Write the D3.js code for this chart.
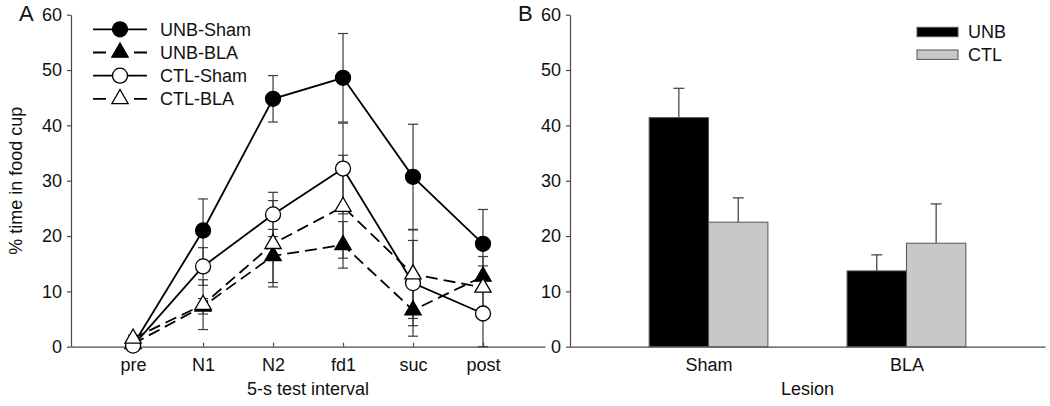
<!DOCTYPE html>
<html><head><meta charset="utf-8">
<script src="https://cdn.jsdelivr.net/npm/d3@7"></script>
<style>
html,body{margin:0;padding:0;background:#fff;}
svg{display:block;font-family:Arial,"Liberation Sans",sans-serif;}
</style></head>
<body><svg id="c" width="1050" height="406"></svg>
<script>
// ---- Panel A data ----
const intervals = ["pre","N1","N2","fd1","suc","post"];
const unbSham    = [0.3, 21.0, 44.8, 48.6, 30.7, 18.6];
const unbShamErr = [0.3, 5.7, 4.2, 8.0, 9.5, 6.2];
const unbBla     = [0.5, 7.3, 16.4, 18.4, 6.6, 12.7];
const unbBlaErr  = [0.4, 1.4, 4.8, 4.2, 4.7, 1.9];
const ctlSham    = [0.2, 14.5, 23.9, 32.2, 11.5, 6.0];
const ctlShamErr = [0.3, 3.4, 4.0, 8.2, 7.7, 6.0];
const ctlBla     = [1.5, 7.6, 18.6, 25.3, 13.1, 10.7];
const ctlBlaErr  = [0.6, 4.5, 7.8, 9.3, 8.0, 5.6];
const seriesNames = ["UNB-Sham","UNB-BLA","CTL-Sham","CTL-BLA"];
const yTicks = [0,10,20,30,40,50,60];
// ---- Panel B data ----
const lesions = ["Sham","BLA"];
const groupNames = ["UNB","CTL"];
const unbBar    = [41.4, 13.7];
const unbBarErr = [5.3, 2.9];
const ctlBar    = [22.5, 18.7];
const ctlBarErr = [4.4, 7.1];

(function(){
const svg = d3.select("#c");
const axisCol = "#4a4a4a", errCol = "#3a3a3a", txt = "#111";
const yTop = 14.7, yBot = 346.7;

const y = d3.scaleLinear().domain([0,60]).range([yBot, yTop]);

// ================= Panel A =================
const xA = d3.scaleLinear().domain([-0.887, 5.886]).range([71, 545]);
const gA = svg.append("g");

const series = [
  {name:seriesNames[0], v:unbSham, e:unbShamErr, fill:"#000", dash:null, sym:"circle"},
  {name:seriesNames[1], v:unbBla,  e:unbBlaErr,  fill:"#000", dash:"12,6", sym:"triangle"},
  {name:seriesNames[2], v:ctlSham, e:ctlShamErr, fill:"#fff", dash:null, sym:"circle"},
  {name:seriesNames[3], v:ctlBla,  e:ctlBlaErr,  fill:"#fff", dash:"12,6", sym:"triangle"}
];

const yAxisA = d3.axisLeft(y).tickValues(yTicks).tickSize(4).tickPadding(5).tickSizeOuter(0);
const axA = gA.append("g").attr("transform","translate(71,0)").call(yAxisA);
const xAxisA = d3.axisBottom(xA).tickValues(d3.range(intervals.length)).tickFormat(i=>intervals[i]).tickSize(-4).tickPadding(14).tickSizeOuter(0);
const axAx = gA.append("g").attr("transform",`translate(0,${yBot})`).call(xAxisA);
[axA, axAx].forEach(a=>{
  a.select(".domain").attr("stroke",axisCol).attr("stroke-width",1.2);
  a.selectAll(".tick line").attr("stroke",axisCol).attr("stroke-width",1.2);
  a.selectAll("text").attr("fill",txt).style("font-size","18px");
});
axAx.selectAll("text").attr("dy","0.55em");

series.forEach(s=>{
  const g = gA.append("g");
  s.v.forEach((v,i)=>{
    const cx = xA(i), y1 = y(Math.max(0,v - s.e[i])), y2 = y(v + s.e[i]);
    g.append("line").attr("x1",cx).attr("x2",cx).attr("y1",y1).attr("y2",y2).attr("stroke",errCol).attr("stroke-width",1.2);
    [y1,y2].forEach(yy=>g.append("line").attr("x1",cx-5).attr("x2",cx+5).attr("y1",yy).attr("y2",yy).attr("stroke",errCol).attr("stroke-width",1.2));
  });
});
const line = d3.line().x((d,i)=>xA(i)).y(d=>y(d));
series.forEach(s=>{
  gA.append("path").datum(s.v).attr("d",line).attr("fill","none").attr("stroke","#000")
    .attr("stroke-width",1.8).attr("stroke-dasharray",s.dash);
});
const triPath = d3.symbol().type(d3.symbolTriangle).size(115)();
function marker(g, s, cx, cy){
  if(s.sym==="circle"){
    g.append("circle").attr("cx",cx).attr("cy",cy).attr("r",7.5).attr("fill",s.fill).attr("stroke","#000").attr("stroke-width",1.3);
  } else {
    g.append("path").attr("d",triPath).attr("transform",`translate(${cx},${cy})`).attr("fill",s.fill).attr("stroke","#000").attr("stroke-width",1.3);
  }
}
series.forEach(s=>{
  const g = gA.append("g");
  s.v.forEach((v,i)=>marker(g,s,xA(i),y(v)));
});

series.forEach((s,k)=>{
  const ly = 29.3 + k*23.2;
  const g = gA.append("g");
  g.append("line").attr("x1",93).attr("x2",147).attr("y1",ly).attr("y2",ly).attr("stroke","#000").attr("stroke-width",1.8).attr("stroke-dasharray",s.dash ? "13,28" : null);
  marker(g,s,120,ly);
  g.append("text").attr("x",160).attr("y",ly).attr("dy","0.36em").attr("fill",txt).style("font-size","18px").text(s.name);
});

gA.append("text").attr("x",308).attr("y",395).attr("text-anchor","middle").attr("fill",txt).style("font-size","18px").text("5-s test interval");
gA.append("text").attr("transform",`translate(22,${(yTop+yBot)/2}) rotate(-90)`).attr("text-anchor","middle").attr("fill",txt).style("font-size","18px").text("% time in food cup");
gA.append("text").attr("x",19).attr("y",21).attr("fill",txt).style("font-size","22px").text("A");

// ================= Panel B =================
const gB = svg.append("g");
const xB = d3.scaleLinear().domain([-0.7, 1.7]).range([570, 1045]);
const barW = xB(0.3) - xB(0);

const yAxisB = d3.axisLeft(y).tickValues(yTicks).tickSize(4).tickPadding(5).tickSizeOuter(0);
const axB = gB.append("g").attr("transform","translate(570,0)").call(yAxisB);
const xAxisB = d3.axisBottom(xB).tickValues(d3.range(lesions.length)).tickFormat(i=>lesions[i]).tickSize(0).tickPadding(14).tickSizeOuter(0);
const axBx = gB.append("g").attr("transform",`translate(0,${yBot})`).call(xAxisB);
[axB, axBx].forEach(a=>{
  a.select(".domain").attr("stroke",axisCol).attr("stroke-width",1.2);
  a.selectAll(".tick line").attr("stroke",axisCol).attr("stroke-width",1.2);
  a.selectAll("text").attr("fill",txt).style("font-size","18px");
});
axBx.selectAll("text").attr("dy","0.55em");

const groups = [
  {name:groupNames[0], v:unbBar, e:unbBarErr, fill:"#000", off:-1},
  {name:groupNames[1], v:ctlBar, e:ctlBarErr, fill:"#c8c8c8", off:0}
];
groups.forEach(gr=>{
  gr.v.forEach((v,i)=>{
    const x0 = xB(i) + gr.off*barW;
    const cx = x0 + barW/2;
    gB.append("line").attr("x1",cx).attr("x2",cx).attr("y1",y(v)).attr("y2",y(v+gr.e[i])).attr("stroke",errCol).attr("stroke-width",1.2);
    gB.append("line").attr("x1",cx-5.5).attr("x2",cx+5.5).attr("y1",y(v+gr.e[i])).attr("y2",y(v+gr.e[i])).attr("stroke",errCol).attr("stroke-width",1.2);
    gB.append("rect").attr("x",x0).attr("y",y(v)).attr("width",barW).attr("height",y(0)-y(v))
      .attr("fill",gr.fill).attr("stroke","#555").attr("stroke-width",1);
  });
});
groups.forEach((gr,k)=>{
  const ly = 32 + k*22.7;
  gB.append("rect").attr("x",917).attr("y",ly-4.7).attr("width",41).attr("height",9.4).attr("fill",gr.fill).attr("stroke","#555").attr("stroke-width",1);
  gB.append("text").attr("x",968).attr("y",ly).attr("dy","0.36em").attr("fill",txt).style("font-size","18px").text(gr.name);
});
gB.append("text").attr("x",807.5).attr("y",395).attr("text-anchor","middle").attr("fill",txt).style("font-size","18px").text("Lesion");
gB.append("text").attr("x",518).attr("y",21).attr("fill",txt).style("font-size","22px").text("B");
})();
</script></body></html>
